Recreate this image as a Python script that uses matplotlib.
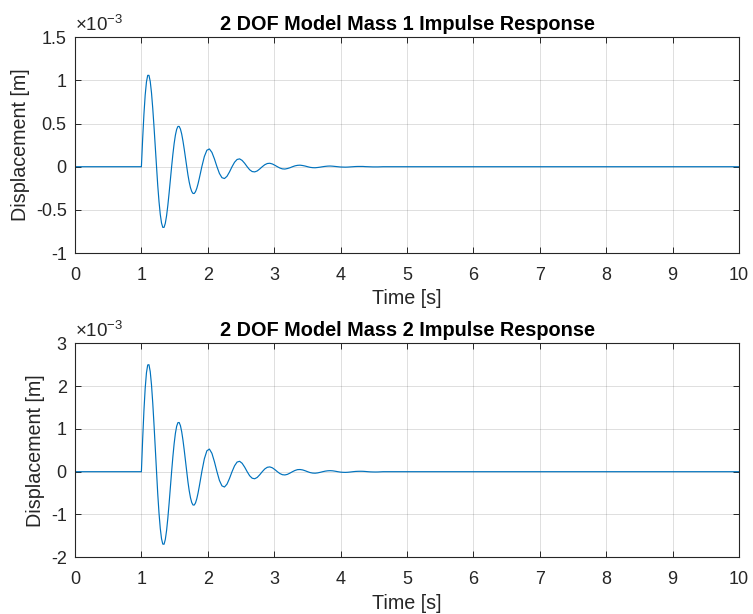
import matplotlib
matplotlib.use("Agg")
import matplotlib.pyplot as plt
from matplotlib.ticker import FuncFormatter

plt.rcParams['font.family'] = ['Liberation Sans', 'DejaVu Sans']
plt.rcParams['mathtext.fontset'] = 'custom'
plt.rcParams['mathtext.rm'] = 'Liberation Sans'
plt.rcParams['axes.unicode_minus'] = False

# ---- data (displacement in units of 1e-3 m) ----
time_s = [0.0,
          1.000, 1.019, 1.038, 1.057, 1.076, 1.095, 1.114, 1.133, 1.152, 1.171, 1.190, 1.209,
          1.228, 1.246, 1.265, 1.284, 1.303, 1.322, 1.341, 1.360, 1.379, 1.398, 1.417, 1.436,
          1.455, 1.474, 1.493, 1.512, 1.531, 1.550, 1.569, 1.588, 1.607, 1.626, 1.645, 1.664,
          1.683, 1.701, 1.720, 1.739, 1.758, 1.777, 1.796, 1.815, 1.834, 1.853, 1.872, 1.891,
          1.910, 1.948, 1.986, 2.024, 2.062, 2.100, 2.138, 2.175, 2.213, 2.251, 2.289, 2.327,
          2.365, 2.403, 2.441, 2.479, 2.517, 2.555, 2.593, 2.630, 2.668, 2.706, 2.744, 2.782,
          2.820, 2.858, 2.896, 2.934, 2.972, 3.010, 3.048, 3.085, 3.123, 3.161, 3.199, 3.237,
          3.275, 3.313, 3.351, 3.389, 3.427, 3.465, 3.503, 3.540, 3.578, 3.616, 3.654, 3.692,
          3.730, 3.768, 3.806, 3.844, 3.882, 3.920, 3.958, 3.995, 4.033, 4.071, 4.109, 4.147,
          4.185, 4.223, 4.261, 4.299, 4.337, 4.375, 4.413, 4.450, 4.488, 4.526, 4.564, 4.602,
          4.640, 10.0]

mass1_disp = [0.0,
              0.000, 0.325, 0.607, 0.830, 0.982, 1.059, 1.059, 0.989, 0.857, 0.676, 0.462, 0.231,
              0.000, -0.216, -0.403, -0.551, -0.652, -0.703, -0.703, -0.656, -0.569, -0.449, -0.307, -0.154,
              0.000, 0.143, 0.268, 0.366, 0.433, 0.467, 0.467, 0.436, 0.378, 0.298, 0.204, 0.102,
              0.000, -0.095, -0.178, -0.243, -0.287, -0.310, -0.310, -0.289, -0.251, -0.198, -0.135, -0.068,
              0.000, 0.118, 0.191, 0.206, 0.166, 0.090, 0.000, -0.078, -0.127, -0.137, -0.111, -0.060,
              0.000, 0.052, 0.084, 0.091, 0.073, 0.040, 0.000, -0.035, -0.056, -0.060, -0.049, -0.026,
              0.000, 0.023, 0.037, 0.040, 0.032, 0.017, 0.000, -0.015, -0.025, -0.027, -0.021, -0.012,
              0.000, 0.010, 0.016, 0.018, 0.014, 0.008, 0.000, -0.007, -0.011, -0.012, -0.009, -0.005,
              0.000, 0.004, 0.007, 0.008, 0.006, 0.003, 0.000, -0.003, -0.004, -0.005, -0.004, -0.002,
              0.000, 0.002, 0.003, 0.003, 0.003, 0.001, 0.000, -0.001, -0.002, -0.002, -0.002, -0.001,
              0.000, 0.0]

mass2_disp = [0.0,
              0.000, 0.761, 1.423, 1.948, 2.310, 2.494, 2.500, 2.338, 2.029, 1.604, 1.098, 0.551,
              0.000, -0.516, -0.965, -1.321, -1.566, -1.691, -1.695, -1.585, -1.376, -1.088, -0.745, -0.373,
              0.000, 0.350, 0.654, 0.896, 1.062, 1.147, 1.149, 1.075, 0.933, 0.737, 0.505, 0.253,
              0.000, -0.237, -0.444, -0.607, -0.720, -0.778, -0.779, -0.729, -0.633, -0.500, -0.342, -0.172,
              0.000, 0.301, 0.488, 0.529, 0.429, 0.232, 0.000, -0.204, -0.331, -0.358, -0.291, -0.157,
              0.000, 0.138, 0.225, 0.243, 0.197, 0.107, 0.000, -0.094, -0.152, -0.165, -0.134, -0.072,
              0.000, 0.064, 0.103, 0.112, 0.091, 0.049, 0.000, -0.043, -0.070, -0.076, -0.062, -0.033,
              0.000, 0.029, 0.048, 0.051, 0.042, 0.023, 0.000, -0.020, -0.032, -0.035, -0.028, -0.015,
              0.000, 0.013, 0.021, 0.024, 0.020, 0.011, 0.000, -0.009, -0.014, -0.016, -0.013, -0.007,
              0.000, 0.006, 0.009, 0.010, 0.009, 0.005, 0.000, -0.004, -0.006, -0.007, -0.006, -0.003,
              0.000, 0.0]

titles = ['2 DOF Model Mass 1 Impulse Response', '2 DOF Model Mass 2 Impulse Response']
x_ticks = [0, 1, 2, 3, 4, 5, 6, 7, 8, 9, 10]
y_ticks_1 = [-1, -0.5, 0, 0.5, 1, 1.5]
y_ticks_2 = [-2, -1, 0, 1, 2, 3]

# ---- styling ----
W, H = 753, 614
fig = plt.figure(figsize=(W / 100, H / 100), dpi=100)
TXT = '#262626'
LINE = '#0072BD'

positions = [
    [75 / W, 1 - 253 / H, 664 / W, 215.7 / H],
    [75 / W, 1 - 557.3 / H, 664 / W, 214 / H],
]
series = [mass1_disp, mass2_disp]
yticks = [y_ticks_1, y_ticks_2]

fmt = FuncFormatter(lambda v, p: f'{v:g}')

for pos, ys, yt, ttl in zip(positions, series, yticks, titles):
    ax = fig.add_axes(pos)
    ax.plot(time_s, ys, color=LINE, lw=0.85)
    ax.set_xlim(0, 10)
    ax.set_ylim(yt[0], yt[-1])
    ax.set_xticks(x_ticks)
    ax.set_yticks(yt)
    ax.xaxis.set_major_formatter(fmt)
    ax.yaxis.set_major_formatter(fmt)
    ax.grid(True, color=TXT, alpha=0.15, lw=0.7)
    ax.set_axisbelow(True)
    ax.tick_params(direction='in', top=True, right=True, length=4.5, width=0.7,
                   colors=TXT, labelsize=13)
    ax.tick_params(axis='x', pad=10)
    ax.tick_params(axis='y', pad=6)
    for s in ax.spines.values():
        s.set_color(TXT)
        s.set_linewidth(0.8)
    ax.set_xlabel('Time [s]', fontsize=14.2, color=TXT, labelpad=4)
    ax.set_ylabel('Displacement [m]', fontsize=14.2, color=TXT, labelpad=4)
    ax.set_title(ttl, fontsize=14.3, fontweight='bold', color='black', pad=5)
    ax.text(0.0, 1.012, r'$\times10^{-3}$', transform=ax.transAxes, fontsize=13.5,
            color=TXT, ha='left', va='bottom')

fig.savefig('out.png', dpi=100)
